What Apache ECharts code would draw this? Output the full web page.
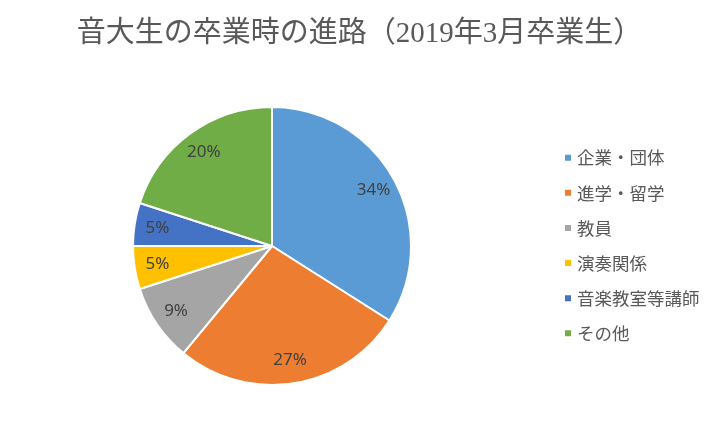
<!DOCTYPE html>
<html style="height:100%">
<head>
    <meta charset="utf-8">
    <title>音大生の卒業時の進路</title>
    <script src="https://cdn.jsdelivr.net/npm/echarts@6/dist/echarts.min.js"></script>
</head>
<body style="height:100%;width:100%;margin:0;background:#fff;">
    <div id="main" style="width:719px;height:426px;margin:0"></div>
    <script type="text/javascript">
        var categories = ['企業・団体', '進学・留学', '教員', '演奏関係', '音楽教室等講師', 'その他'];
        var shares = [34, 27, 9, 5, 5, 20];
        var colors = ['#5B9BD5', '#ED7D31', '#A5A5A5', '#FFC000', '#4472C4', '#70AD47'];

        var pieData = categories.map(function(name, i) {
            return { name: name, value: shares[i], itemStyle: { color: colors[i] } };
        });

        var myChart = echarts.init(document.getElementById('main'));
        myChart.setOption({
            animation: false,
            title: {
                text: '音大生の卒業時の進路（2019年3月卒業生）',
                left: 'center',
                top: 15,
                textStyle: {
                    color: '#595959',
                    fontSize: 29,
                    fontWeight: 'normal',
                    fontFamily: '"Liberation Serif", "Noto Sans CJK JP", serif'
                }
            },
            legend: {
                orient: 'vertical',
                left: 558,
                top: 144,
                itemWidth: 8,
                itemHeight: 8,
                itemGap: 17.6,
                icon: 'rect',
                textStyle: {
                    color: '#595959',
                    fontSize: 17.5,
                    fontFamily: '"Noto Sans CJK JP", sans-serif'
                },
                data: categories
            },
            series: [
                {
                    type: 'pie',
                    center: [272, 246],
                    radius: [0, 139],
                    startAngle: 90,
                    clockwise: true,
                    label: { show: false },
                    labelLine: { show: false },
                    itemStyle: { borderColor: '#fff', borderWidth: 2 },
                    data: pieData
                },
                {
                    // label ring only
                    type: 'pie',
                    center: [272, 246],
                    radius: [87, 139],
                    startAngle: 90,
                    clockwise: true,
                    silent: true,
                    legendHoverLink: false,
                    itemStyle: { color: 'rgba(0,0,0,0)' },
                    label: {
                        show: true,
                        position: 'inside',
                        formatter: '{c}%',
                        color: '#404040',
                        fontSize: 17,
                        fontFamily: '"Noto Sans", sans-serif'
                    },
                    labelLine: { show: false },
                    data: categories.map(function(name, i) {
                        return { name: name + ' ', value: shares[i] };
                    })
                }
            ]
        });
    </script>
</body>
</html>
